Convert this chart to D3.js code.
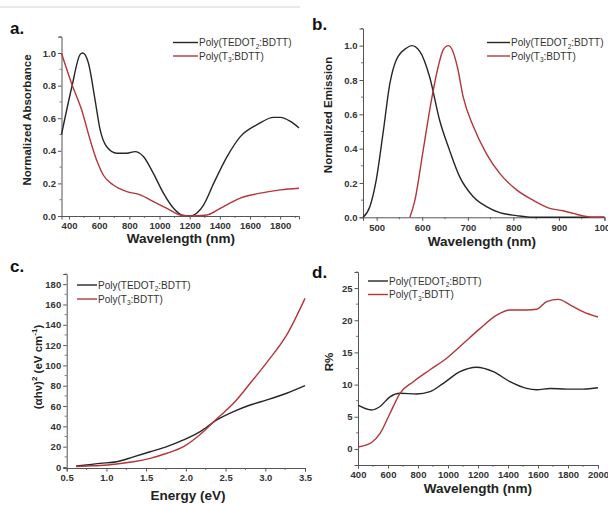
<!DOCTYPE html>
<html>
<head>
<meta charset="utf-8">
<script src="https://cdnjs.cloudflare.com/ajax/libs/d3/7.8.5/d3.min.js"></script>
<style>
  body { margin: 0; background: #fff; }
  svg { display: block; font-family: "Liberation Sans", Arial, sans-serif; }
  .tick text { font-weight: bold; fill: #333; }
</style>
</head>
<body>
<div id="chart"></div>
<script>
// a. absorbance (wavelength nm, normalized)
const absWl = [350, 418, 473, 491, 528, 573, 606, 650, 717, 783, 838, 893, 960, 1026, 1093, 1149, 1200, 1292, 1359, 1448, 1536, 1647, 1757, 1802, 1868, 1925];
const absTedot = [0.50, 0.79, 0.99, 1.0, 0.94, 0.71, 0.53, 0.425, 0.385, 0.385, 0.395, 0.365, 0.26, 0.14, 0.047, 0.005, 0.0, 0.067, 0.2, 0.364, 0.487, 0.56, 0.605, 0.605, 0.58, 0.54];
const absWlT3 = [350, 418, 484, 540, 584, 628, 694, 783, 872, 960, 1049, 1137, 1200, 1315, 1403, 1536, 1669, 1802, 1925];
const absT3 = [0.998, 0.81, 0.65, 0.466, 0.34, 0.25, 0.19, 0.15, 0.13, 0.088, 0.047, 0.006, 0.0, 0.006, 0.047, 0.11, 0.14, 0.16, 0.17];

// b. emission
const emWl = [470, 485, 499, 514, 529, 543, 565, 577, 595, 616, 638, 660, 682, 712, 741, 770, 807, 843, 900, 1000];
const emTedot = [0.0, 0.062, 0.217, 0.49, 0.78, 0.917, 0.985, 1.0, 0.965, 0.82, 0.567, 0.39, 0.237, 0.12, 0.062, 0.027, 0.01, 0.0, 0.0, 0.0];
const emWlT3 = [573, 584, 602, 620, 635, 646, 657, 666, 677, 690, 712, 741, 770, 807, 843, 880, 909, 931, 953, 976, 1000];
const emT3 = [0.0, 0.1, 0.39, 0.68, 0.877, 0.975, 1.0, 0.975, 0.877, 0.70, 0.53, 0.37, 0.256, 0.16, 0.10, 0.052, 0.038, 0.023, 0.008, 0.0, 0.0];

// c. Tauc plot (energy eV)
const tEnergy = [0.62, 0.75, 0.92, 1.13, 1.34, 1.55, 1.76, 1.97, 2.18, 2.39, 2.6, 2.81, 3.02, 3.27, 3.5];
const tTedot = [1, 2, 3.6, 5.2, 10, 15, 20, 26.6, 34.8, 46.3, 54.5, 61, 66, 72.6, 80];
const tT3 = [0.5, 1, 1.5, 3, 5.2, 8.5, 13.5, 20, 32, 47.5, 62.7, 82.4, 103, 130, 166];

// d. reflectance
const rWl = [400, 491, 547, 613, 680, 791, 880, 969, 1080, 1191, 1302, 1413, 1524, 1591, 1680, 1791, 1902, 2000];
const rTedot = [6.8, 6.06, 6.6, 8.1, 8.65, 8.54, 8.9, 10.2, 12.0, 12.7, 12.0, 10.45, 9.4, 9.2, 9.4, 9.3, 9.3, 9.5];
const rWlT3 = [400, 491, 547, 613, 680, 769, 880, 991, 1102, 1213, 1324, 1413, 1524, 1591, 1658, 1736, 1813, 1902, 2000];
const rT3 = [0.3, 1.0, 2.4, 5.5, 8.65, 10.45, 12.3, 14.1, 16.4, 18.7, 20.8, 21.6, 21.6, 21.7, 22.9, 23.25, 22.4, 21.3, 20.5];

const legendNames = [["Poly(TEDOT", "2", ":BDTT)"], ["Poly(T", "3", ":BDTT)"]];
const colors = ["#262626", "#b3363a"];

const svg = d3.select("#chart").append("svg").attr("width", 608).attr("height", 505);

svg.append("line").attr("x1", 0).attr("x2", 300).attr("y1", 7).attr("y2", 7)
  .attr("stroke", "#d4d4d4").attr("stroke-width", 1);

const zip = (xs, ys) => xs.map((x, i) => [x, ys[i]]);

function drawPanel(p) {
  const x = d3.scaleLinear().domain(p.xDomain).range(p.xRange);
  const y = d3.scaleLinear().domain(p.yDomain).range(p.yRange);
  const g = svg.append("g");

  // minor ticks
  const xMinor = d3.range(p.xMinor[0], p.xDomain[1] + 1e-9, p.xMinor[1]);
  const yMinor = d3.range(p.yMinor[0], p.yDomain[1] + 1e-9, p.yMinor[1]);
  g.selectAll(".xm").data(xMinor).join("line")
    .attr("x1", d => x(d)).attr("x2", d => x(d))
    .attr("y1", p.yRange[0]).attr("y2", p.yRange[0] + 2)
    .attr("stroke", "#777");
  g.selectAll(".ym").data(yMinor).join("line")
    .attr("y1", d => y(d)).attr("y2", d => y(d))
    .attr("x1", p.xRange[0]).attr("x2", p.xRange[0] - 2)
    .attr("stroke", "#777");

  const xAxis = d3.axisBottom(x).tickValues(p.xTicks).tickFormat(p.xFmt).tickSize(3.5).tickPadding(3);
  const yAxis = d3.axisLeft(y).tickValues(p.yTicks).tickFormat(p.yFmt).tickSize(3.5).tickPadding(2);

  g.append("g").attr("transform", `translate(0,${p.yRange[0]})`).call(xAxis)
    .call(a => a.selectAll("text").style("font-size", "9.5px"))
    .call(a => a.selectAll("line,path").attr("stroke", "#555"));
  g.append("g").attr("transform", `translate(${p.xRange[0]},0)`).call(yAxis)
    .call(a => a.selectAll("text").style("font-size", "9.5px"))
    .call(a => a.selectAll("line,path").attr("stroke", "#555"));

  const line = d3.line().x(d => x(d[0])).y(d => y(d[1])).curve(d3.curveMonotoneX);
  p.series.forEach((s, i) => {
    g.append("path").datum(s).attr("d", line)
      .attr("fill", "none").attr("stroke", colors[i]).attr("stroke-width", 1.4);
  });

  // legend
  legendNames.forEach((nm, i) => {
    const ly = p.legend[1] + i * p.legend[3];
    g.append("line").attr("x1", p.legend[0]).attr("x2", p.legend[0] + p.legend[2])
      .attr("y1", ly).attr("y2", ly).attr("stroke", colors[i]).attr("stroke-width", 1.4);
    const t = g.append("text").attr("x", p.legend[0] + p.legend[2] + 1).attr("y", ly + 3.5)
      .style("font-size", "10px").attr("fill", "#333");
    t.append("tspan").text(nm[0]);
    t.append("tspan").text(nm[1]).attr("dy", 2.5).style("font-size", "6.5px");
    t.append("tspan").text(nm[2]).attr("dy", -2.5);
  });

  // axis titles
  g.append("text").attr("x", p.xTitle[0]).attr("y", p.xTitle[1]).attr("text-anchor", "middle")
    .style("font-size", "13.5px").style("font-weight", "bold").attr("fill", "#222").text(p.xLabel);
  const yt = g.append("text").attr("transform", `translate(${p.yTitle[0]},${p.yTitle[1]}) rotate(-90)`)
    .attr("text-anchor", "middle").style("font-size", "11.5px").style("font-weight", "bold").attr("fill", "#222");
  if (typeof p.yLabel === "string") yt.text(p.yLabel);
  else p.yLabel(yt);

  g.append("text").attr("x", p.tag[0]).attr("y", p.tag[1])
    .style("font-size", "17px").style("font-weight", "bold").attr("fill", "#111").text(p.tagText);
}

const f1 = d3.format(".1f");

drawPanel({
  xDomain: [350, 1925], xRange: [61.5, 299],
  yDomain: [0, 1.1], yRange: [216, 36.7],
  xTicks: [400, 600, 800, 1000, 1200, 1400, 1600, 1800], yTicks: [0, 0.2, 0.4, 0.6, 0.8, 1.0],
  xMinor: [500, 200], yMinor: [0.1, 0.2],
  xFmt: d3.format("d"), yFmt: f1,
  series: [zip(absWl, absTedot), zip(absWlT3, absT3)],
  legend: [173, 42.5, 25, 13.5],
  xTitle: [181, 243], xLabel: "Wavelength (nm)",
  yTitle: [31, 120], yLabel: "Normalized Absorbance",
  tag: [10, 34], tagText: "a."
});

drawPanel({
  xDomain: [470, 1000], xRange: [363, 604.5],
  yDomain: [0, 1.1], yRange: [217.3, 28.5],
  xTicks: [500, 600, 700, 800, 900, 1000], yTicks: [0, 0.2, 0.4, 0.6, 0.8, 1.0],
  xMinor: [550, 100], yMinor: [0.1, 0.2],
  xFmt: d3.format("d"), yFmt: f1,
  series: [zip(emWl, emTedot), zip(emWlT3, emT3)],
  legend: [487, 42.5, 23, 13.5],
  xTitle: [482, 246], xLabel: "Wavelength (nm)",
  yTitle: [332, 115], yLabel: "Normalized Emission",
  tag: [312, 30], tagText: "b."
});

drawPanel({
  xDomain: [0.5, 3.5], xRange: [66.7, 305],
  yDomain: [-1, 190], yRange: [468, 274],
  xTicks: [0.5, 1.0, 1.5, 2.0, 2.5, 3.0, 3.5], yTicks: d3.range(0, 181, 20),
  xMinor: [0.75, 0.5], yMinor: [10, 20],
  xFmt: f1, yFmt: d3.format("d"),
  series: [zip(tEnergy, tTedot), zip(tEnergy, tT3)],
  legend: [77, 285, 20, 14],
  xTitle: [188, 500], xLabel: "Energy (eV)",
  yTitle: [42, 367], yLabel: t => {
    t.append("tspan").text("(\u03b1h\u03bd)");
    t.append("tspan").text("2").attr("dy", -5).style("font-size", "8px");
    t.append("tspan").text(" (eV cm").attr("dy", 5);
    t.append("tspan").text("-1").attr("dy", -5).style("font-size", "8px");
    t.append("tspan").text(")").attr("dy", 5);
  },
  tag: [10, 272], tagText: "c."
});

drawPanel({
  xDomain: [400, 2000], xRange: [358, 598],
  yDomain: [-2.5, 27.5], yRange: [465, 272],
  xTicks: d3.range(400, 2001, 200), yTicks: [0, 5, 10, 15, 20, 25],
  xMinor: [500, 200], yMinor: [2.5, 5],
  xFmt: d3.format("d"), yFmt: d3.format("d"),
  series: [zip(rWl, rTedot), zip(rWlT3, rT3)],
  legend: [368, 281, 20, 13.5],
  xTitle: [478, 493], xLabel: "Wavelength (nm)",
  yTitle: [333, 362], yLabel: "R%",
  tag: [312, 278], tagText: "d."
});
</script>
</body>
</html>
